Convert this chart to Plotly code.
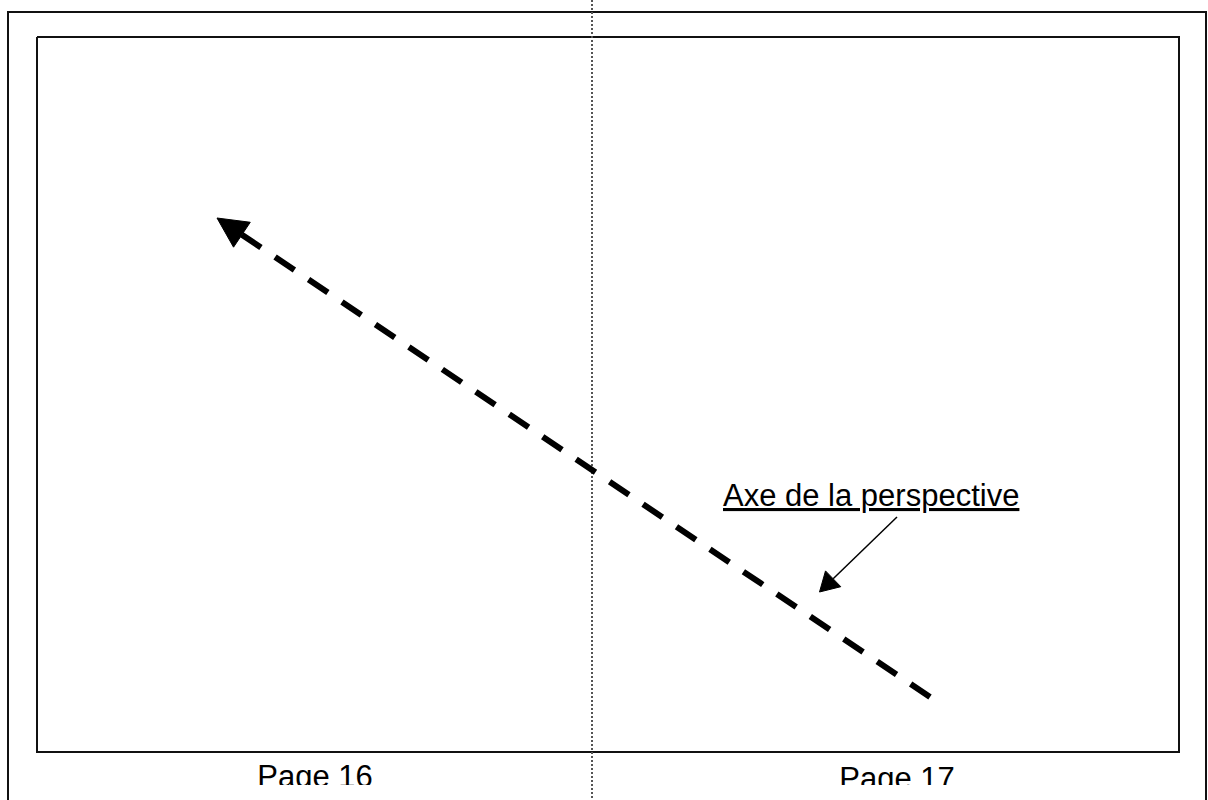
import numpy as np
import plotly.graph_objects as go

# ---- diagram geometry (page units, 1 unit = 1 px of the sheet) ----
sheet_w, sheet_h = 1208, 800

outer_border_x = [8, 8, 1206, 1206]
outer_border_y = [804, 12, 12, 804]

frame_x = [37, 1179, 1179, 37, 37]
frame_y = [37, 37, 752, 752, 37]

fold_x = [592, 592]
fold_y = [0, 800]

axis_tail = [930, 697]
axis_tip = [217, 218]
axis_head_len, axis_head_w = 30, 30

callout_start = [897, 517]
callout_tip = [819.5, 592]
callout_head_len, callout_head_w = 19, 22

label_text = "Axe de la perspective"
label_x = 723
label_baseline = 506

page_labels = ["Page 16", "Page 17"]
page_x = [315, 897]
page_baseline = [787, 789]
page_clip_y = 785

font_size = 31
font_family = "Liberation Sans, Arial, Helvetica, sans-serif"


def arrow_head(tail, tip, length, width):
    t = np.asarray(tail, float)
    p = np.asarray(tip, float)
    u = (p - t) / np.linalg.norm(p - t)
    n = np.array([-u[1], u[0]])
    base = p - length * u
    c1 = base + width / 2 * n
    c2 = base - width / 2 * n
    return [p[0], c1[0], c2[0], p[0]], [p[1], c1[1], c2[1], p[1]], base


fig = go.Figure()

# outer page border
fig.add_trace(go.Scatter(x=outer_border_x, y=outer_border_y, mode="lines",
                         line=dict(color="#111111", width=2), hoverinfo="skip"))
# inner frame
fig.add_trace(go.Scatter(x=frame_x, y=frame_y, mode="lines",
                         line=dict(color="#111111", width=2), hoverinfo="skip"))
# fold line between pages
fig.add_trace(go.Scatter(x=fold_x, y=fold_y, mode="lines",
                         line=dict(color="#555555", width=2, dash="2px,2px"),
                         hoverinfo="skip"))

# dashed perspective axis with big arrow head
hx, hy, hbase = arrow_head(axis_tail, axis_tip, axis_head_len, axis_head_w)
fig.add_trace(go.Scatter(x=[axis_tail[0], hbase[0]], y=[axis_tail[1], hbase[1]],
                         mode="lines",
                         line=dict(color="black", width=6, dash="23.3px,17px"),
                         hoverinfo="skip"))
fig.add_trace(go.Scatter(x=hx, y=hy, mode="lines", fill="toself",
                         fillcolor="black", line=dict(color="black", width=1),
                         hoverinfo="skip"))

# callout arrow
cx, cy, cbase = arrow_head(callout_start, callout_tip, callout_head_len, callout_head_w)
fig.add_trace(go.Scatter(x=[callout_start[0], cbase[0]], y=[callout_start[1], cbase[1]],
                         mode="lines", line=dict(color="black", width=1.5),
                         hoverinfo="skip"))
fig.add_trace(go.Scatter(x=cx, y=cy, mode="lines", fill="toself",
                         fillcolor="black", line=dict(color="black", width=1),
                         hoverinfo="skip"))

# underlined label
fig.add_trace(go.Scatter(x=[label_x], y=[label_baseline - 0.25 * font_size],
                         mode="text", text=["<u>" + label_text + "</u>"],
                         textposition="middle right",
                         textfont=dict(family=font_family, size=font_size, color="black"),
                         hoverinfo="skip"))

# page labels (clipped at the bottom like the source)
fig.add_trace(go.Scatter(x=page_x, y=[b - 0.25 * font_size for b in page_baseline],
                         mode="text", text=page_labels,
                         textposition="middle center",
                         textfont=dict(family=font_family, size=font_size, color="black"),
                         hoverinfo="skip"))

shapes = []
for px in page_x:
    shapes.append(dict(type="rect", xref="x", yref="y", layer="above",
                       x0=px - 75, x1=px + 75, y0=page_clip_y, y1=sheet_h + 10,
                       fillcolor="white", line=dict(width=0)))

fig.update_layout(
    width=sheet_w, height=sheet_h,
    margin=dict(l=0, r=0, t=0, b=0),
    paper_bgcolor="white", plot_bgcolor="white",
    showlegend=False,
    xaxis=dict(range=[0, sheet_w], visible=False, fixedrange=True),
    yaxis=dict(range=[sheet_h, 0], visible=False, fixedrange=True),
    shapes=shapes,
)

fig.write_html("out.html", config={"displayModeBar": False, "staticPlot": True},
               post_script="document.body.style.margin='0';document.body.style.overflow='hidden';")
